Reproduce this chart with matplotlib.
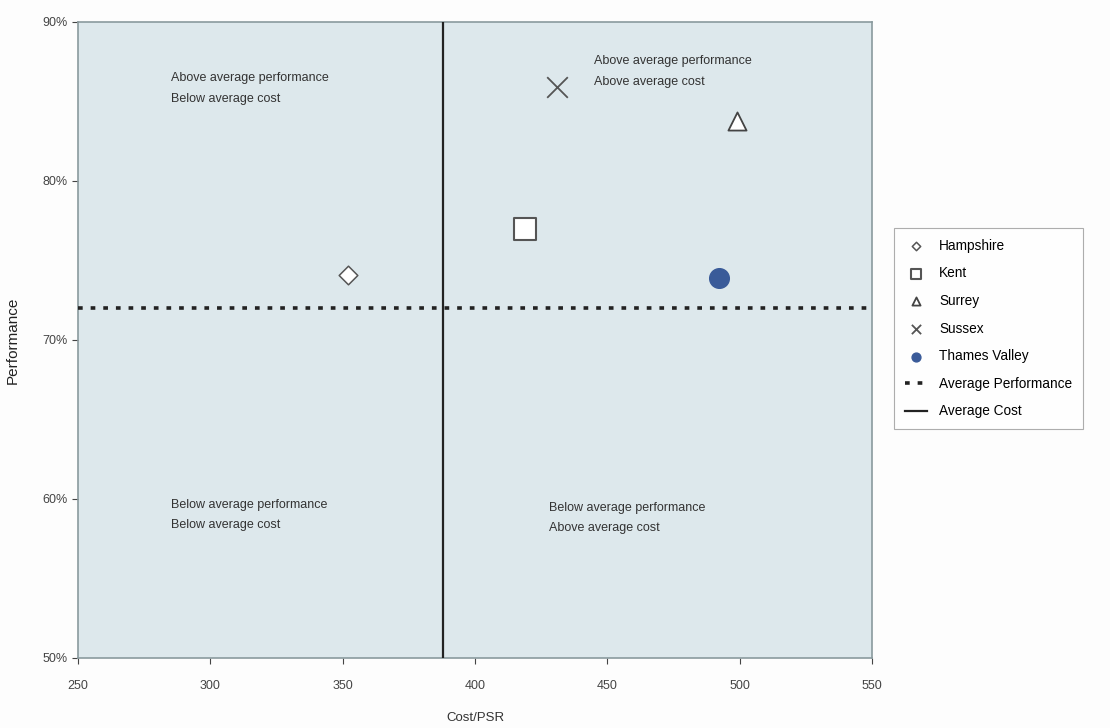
import matplotlib
matplotlib.use("Agg")
import matplotlib.pyplot as plt
from matplotlib.ticker import FuncFormatter

plt.rcParams["font.family"] = ["Liberation Sans Narrow", "Liberation Sans", "DejaVu Sans"]

# cost per PSR and performance (%) for each force
forces = ["Hampshire", "Kent", "Surrey", "Sussex", "Thames Valley"]
cost = [352, 419, 499, 431, 492]
performance = [74.1, 77.0, 83.8, 85.9, 73.9]

avg_performance = 72.0
avg_cost = 388

quadrant_labels = [
    "Above average performance\nBelow average cost",
    "Above average performance\nAbove average cost",
    "Below average performance\nBelow average cost",
    "Below average performance\nAbove average cost",
]
quadrant_pos = [(285, 85.8), (445, 86.9), (285, 59.0), (428, 58.8)]

styles = {
    "Hampshire": dict(marker="D", s=90, facecolor="white", edgecolor="#555555", linewidth=1.1),
    "Kent": dict(marker="s", s=260, facecolor="white", edgecolor="#555555", linewidth=1.5),
    "Surrey": dict(marker="^", s=170, facecolor="white", edgecolor="#444444", linewidth=1.3),
    "Sussex": dict(marker="x", s=220, color="#555555", linewidth=1.3),
    "Thames Valley": dict(marker="o", s=200, color="#3a5b99"),
}

fig = plt.figure(figsize=(11.1, 7.28), dpi=100, facecolor="#fdfdfd")
ax = fig.add_axes([0.0703, 0.0962, 0.7153, 0.8736])
ax.set_facecolor("#dde8ec")

for name, x, y in zip(forces, cost, performance):
    ax.scatter([x], [y], label=name, zorder=4, **styles[name])

ax.axhline(avg_performance, color="#222222", lw=2.6, ls=(0, (1.3, 2.2)),
           label="Average Performance", zorder=3)
ax.axvline(avg_cost, color="#222222", lw=1.6, label="Average Cost", zorder=3)

for txt, (x, y) in zip(quadrant_labels, quadrant_pos):
    ax.text(x, y, txt, fontsize=9, va="center", ha="left", color="#333333",
            linespacing=1.95)

ax.set_xlim(250, 550)
ax.set_ylim(50, 90)
ax.set_xticks(range(250, 551, 50))
ax.set_yticks(range(50, 91, 10))
ax.yaxis.set_major_formatter(FuncFormatter(lambda v, _: f"{v:.0f}%"))
ax.tick_params(labelsize=9, colors="#444444", length=4, width=0.8)
ax.tick_params(axis="x", pad=12)
for side in ax.spines.values():
    side.set_color("#8a9a9e")
    side.set_linewidth(1.2)

ax.set_xlabel("Cost/PSR", fontsize=9.5, color="#333333", labelpad=14)
ax.set_ylabel("Performance", fontsize=11, color="#222222")
ax.yaxis.set_label_coords(-0.074, 0.5)

leg = ax.legend(loc="center left", bbox_to_anchor=(1.028, 0.518), fontsize=9.8,
                frameon=True, fancybox=False, markerscale=0.45, handlelength=1.6,
                handletextpad=0.9, labelspacing=1.0, borderpad=0.8, borderaxespad=0)
leg.get_frame().set_edgecolor("#999999")
leg.get_frame().set_linewidth(0.8)

fig.savefig("out.png", dpi=100, facecolor=fig.get_facecolor())
